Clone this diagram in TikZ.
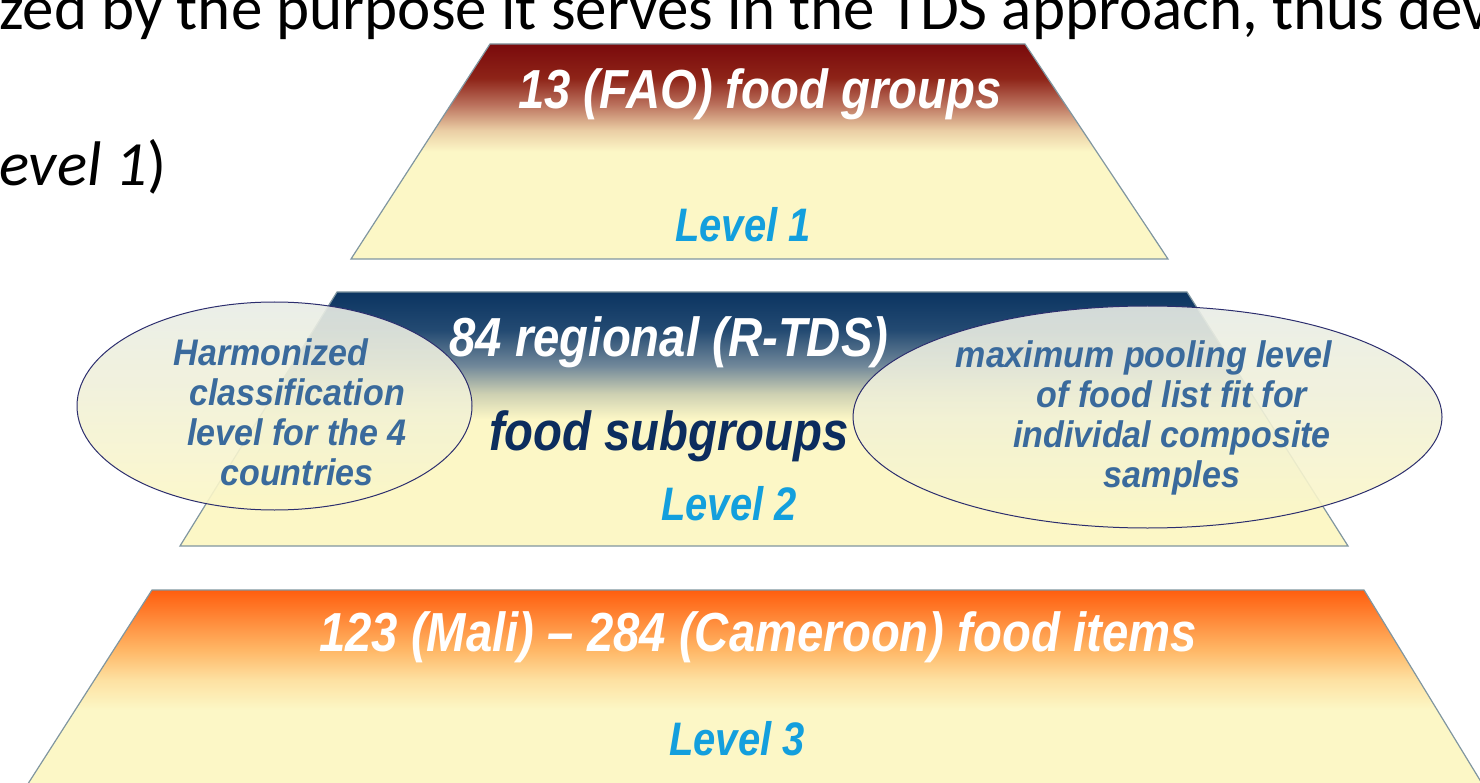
\documentclass[tikz,border=0pt]{standalone}
\usepackage{fontspec}
\setmainfont{Carlito}
\newfontfamily\titlefont[FakeStretch=0.86]{Liberation Sans}
\newfontfamily\levelfont[FakeStretch=0.85]{Liberation Sans}
\newfontfamily\bubblefont[FakeStretch=0.92]{Liberation Sans}
\usetikzlibrary{shapes.geometric}
\definecolor{darkredc}{HTML}{7A0A0C}
\definecolor{brickc}{HTML}{8E2418}
\definecolor{rosec}{HTML}{BA705C}
\definecolor{tanc}{HTML}{EACDA4}
\definecolor{paleyellow}{HTML}{FCF7C6}
\definecolor{navyc}{HTML}{0B3461}
\definecolor{steelc}{HTML}{234A72}
\definecolor{greyblue}{HTML}{71889A}
\definecolor{sagec}{HTML}{CDD0B2}
\definecolor{orangec}{HTML}{FF5E0E}
\definecolor{lightorange}{HTML}{FF8A3A}
\definecolor{apricot}{HTML}{FFB766}
\definecolor{peachc}{HTML}{FDE1A2}
\definecolor{levelblue}{HTML}{139FDD}
\definecolor{subgroupblue}{HTML}{0C2D5E}
\definecolor{bubbletextc}{HTML}{3A6A9C}
\definecolor{bubbleline}{HTML}{2C2E6E}
\definecolor{bubbletop}{HTML}{E8ECE6}
\definecolor{edgegrey}{HTML}{8096A0}
% gradients: path box runs from 25bp (bottom) to 75bp (top)
\pgfdeclareverticalshading{levelone}{100bp}{color(0bp)=(paleyellow); color(50bp)=(paleyellow); color(55bp)=(tanc); color(61bp)=(rosec); color(67bp)=(brickc); color(75bp)=(darkredc); color(100bp)=(darkredc)}
\pgfdeclareverticalshading{leveltwo}{100bp}{color(0bp)=(paleyellow); color(50bp)=(paleyellow); color(55bp)=(sagec); color(60.5bp)=(greyblue); color(67.5bp)=(steelc); color(75bp)=(navyc); color(100bp)=(navyc)}
\pgfdeclareverticalshading{levelthree}{100bp}{color(0bp)=(paleyellow); color(45bp)=(paleyellow); color(52.5bp)=(peachc); color(60bp)=(apricot); color(67.5bp)=(lightorange); color(75bp)=(orangec); color(100bp)=(orangec)}
\tikzstyle{levelbox} = [
    draw=edgegrey,
    line width=1.2pt,
    shade
    ]
\tikzstyle{titletext} = [
    text=white,
    font=\titlefont\bfseries\itshape\fontsize{55}{64}\selectfont,
    anchor=base,
    inner sep=0pt
    ]
\tikzstyle{leveltext} = [
    text=levelblue,
    font=\levelfont\bfseries\itshape\fontsize{47}{54}\selectfont,
    anchor=base,
    inner sep=0pt
    ]
\tikzstyle{bubble} = [
    ellipse,
    draw=bubbleline,
    line width=1pt,
    top color=bubbletop,
    middle color=paleyellow,
    bottom color=paleyellow,
    fill opacity=0.9,
    inner sep=0pt
    ]
\tikzstyle{bubbletext} = [
    text=bubbletextc,
    font=\bubblefont\bfseries\itshape\fontsize{37}{40}\selectfont,
    align=center,
    inner sep=0pt
    ]
\tikzstyle{slidetext} = [
    font=\fontsize{63}{70}\selectfont,
    anchor=base west,
    inner sep=0pt
    ]

\begin{document}
\begin{tikzpicture}[x=1pt,y=-1pt]
\useasboundingbox (0,0) rectangle (1480,783);
\clip (0,0) rectangle (1480,783);

\node[slidetext] (header) at (-1,30) {zed by the purpose it serves in the TDS approach, thus dev};
\node[slidetext] (levelnote) at (-1,186) {\itshape evel 1\/\upshape)};

% the three levels
\draw[levelbox, shading=levelone] (490,44) -- (1025,44) -- (1168,259) -- (351,259) -- cycle;
\draw[levelbox, shading=leveltwo] (337,292) -- (1187,292) -- (1348,546) -- (180,546) -- cycle;
\draw[levelbox, shading=levelthree] (152,590) -- (1364,590) -- (1486,790) -- (24,790) -- cycle;

\node[bubble, minimum width=395, minimum height=208] (harmonbubble) at (274.5,406) {};
\node[bubble, minimum width=589, minimum height=222] (poolbubble) at (1147.5,417) {};

\node[titletext] (groups) at (760,109) {13 (FAO) food groups};
\node[leveltext] (levelone) at (743,242) {Level 1};
\node[titletext] (regional) at (669,357) {84 regional (R-TDS)};
\node[titletext, text=subgroupblue] (subgroups) at (669,450) {food subgroups};
\node[leveltext] (leveltwo) at (729,520) {Level 2};
\node[titletext] (items) at (758,651) {123 (Mali) \textendash{} 284 (Cameroon) food items};
\node[leveltext] (levelthree) at (737,755) {Level 3};

\node[bubbletext] (harmontext) at (297,412) {Harmonized\hspace*{52pt}\\classification\\level for the 4\\countries};
\node[bubbletext] (pooltext) at (1172,418) {maximum pooling level\hspace*{56pt}\\of food list fit for\\individal composite\\samples};
\end{tikzpicture}
\end{document}
